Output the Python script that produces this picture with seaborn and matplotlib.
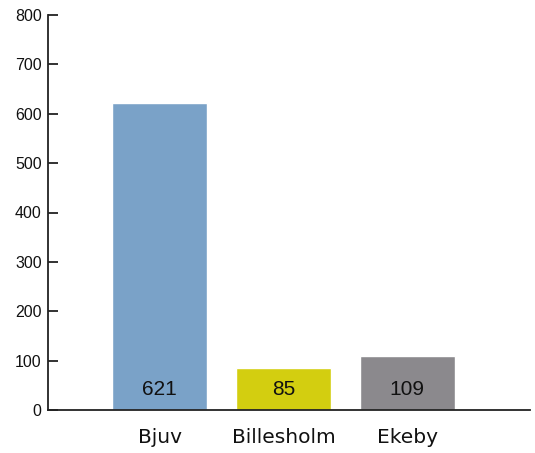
import matplotlib
matplotlib.use("Agg")
import matplotlib.pyplot as plt
import seaborn as sns
import pandas as pd

categories = ["Bjuv", "Billesholm", "Ekeby"]
values = [621, 85, 109]
colors = ["#7aa2c8", "#d3ce10", "#8b898d"]
yticks = [0, 100, 200, 300, 400, 500, 600, 700, 800]

sns.set_theme(style="white")
plt.rcParams['font.family'] = ['Liberation Sans', 'DejaVu Sans']

df = pd.DataFrame({"cat": categories, "val": values})

fig = plt.figure(figsize=(5.35, 4.53), dpi=100)
ax = fig.add_axes([48/535, 1-410/453, (530-48)/535, (410-15)/453])

sns.barplot(data=df, x="cat", y="val", hue="cat", palette=colors,
            width=0.766, saturation=1, legend=False, ax=ax)

ax.set_xlim(-0.9, 2.99)
ax.set_ylim(0, 800)
ax.set_yticks(yticks)
ax.set_yticklabels([str(t) for t in yticks], fontsize=11.5)
ax.set_xticks(range(len(categories)))
ax.set_xticklabels(categories, fontsize=14.5, family=['DejaVu Sans'])
ax.set_xlabel("")
ax.set_ylabel("")

for s in ["top", "right"]:
    ax.spines[s].set_visible(False)
for s in ["left", "bottom"]:
    ax.spines[s].set_color("#222222")
    ax.spines[s].set_linewidth(1.3)

ax.tick_params(axis="y", direction="in", length=7, width=1.3, color="#222222",
               pad=4.5, labelcolor="#111111", left=True)
ax.tick_params(axis="x", length=0, pad=13, labelcolor="#111111")

for i, v in enumerate(values):
    ax.annotate(str(v), xy=(i, 0), xytext=(0, 15), textcoords="offset points",
                ha="center", va="center", fontsize=15, color="#111111")

fig.savefig("out.png", dpi=100)
